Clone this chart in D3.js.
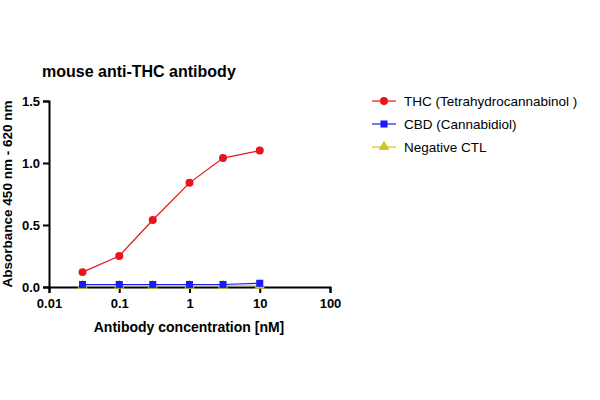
<!DOCTYPE html><html><head><script src="https://cdn.jsdelivr.net/npm/d3@7"></script>
<style>body{margin:0;background:#fff}text{font-family:Arial,"Liberation Sans",sans-serif}</style></head><body><svg id="c" width="600" height="400"></svg>
<script>
const concentrations=[0.03,0.1,0.3,1,3,10];
const thc=[0.12,0.25,0.54,0.84,1.04,1.10];
const cbd=[0.02,0.02,0.02,0.02,0.02,0.03];
const neg=[0.01,0.01,0.01,0.01,0.01,0.01];
const xTicks=[0.01,0.1,1,10,100];
const xTickLabels=["0.01","0.1","1","10","100"];
const yTicks=[0,0.5,1.0,1.5];
const series=[{name:"THC (Tetrahydrocannabinol )",v:thc,c:"#e8141b",s:d3.symbolCircle},
{name:"CBD (Cannabidiol)",v:cbd,c:"#1a1aff",s:d3.symbolSquare},
{name:"Negative CTL",v:neg,c:"#c8c820",s:d3.symbolTriangle}];
const svg=d3.select("#c");
const x=d3.scaleLog().domain([0.01,100]).range([49,330]);
const y=d3.scaleLinear().domain([0,1.5]).range([287,101]);
svg.append("g").attr("transform","translate(0,287)").call(d3.axisBottom(x).tickValues(xTicks).tickFormat((d,i)=>xTickLabels[i]).tickSize(6))
.call(g=>{g.select(".domain").attr("stroke-width",2);g.selectAll("line").attr("stroke-width",2);g.selectAll("text").attr("font-size",13).attr("font-weight","bold").attr("dy","0.9em")});
svg.append("g").attr("transform","translate(49,0)").call(d3.axisLeft(y).tickValues(yTicks).tickFormat(d3.format(".1f")).tickSize(6))
.call(g=>{g.select(".domain").attr("stroke-width",2);g.selectAll("line").attr("stroke-width",2);g.selectAll("text").attr("font-size",13).attr("font-weight","bold")});
series.slice().reverse().forEach(s=>{
 svg.append("path").attr("d",d3.line().x((d,i)=>x(concentrations[i])).y(d=>y(d))(s.v)).attr("fill","none").attr("stroke",s.c).attr("stroke-width",1.2);
 svg.selectAll(null).data(s.v).enter().append("path").attr("d",d3.symbol().type(s.s).size(50)).attr("fill",s.c)
 .attr("transform",(d,i)=>`translate(${x(concentrations[i])},${y(d)})`);
});
svg.append("text").attr("x",42).attr("y",77).attr("font-size",16).attr("font-weight","bold").text("mouse anti-THC antibody");
svg.append("text").attr("x",189).attr("y",332).attr("text-anchor","middle").attr("font-size",14).attr("font-weight","bold").text("Antibody concentration [nM]");
svg.append("text").attr("transform","translate(12,194) rotate(-90)").attr("text-anchor","middle").attr("font-size",13.5).attr("font-weight","bold").text("Absorbance 450 nm - 620 nm");
series.forEach((s,i)=>{const yy=101+i*23;
 svg.append("line").attr("x1",372).attr("x2",396).attr("y1",yy).attr("y2",yy).attr("stroke",s.c).attr("stroke-width",1.2);
 svg.append("path").attr("d",d3.symbol().type(s.s).size(50)).attr("fill",s.c).attr("transform",`translate(384,${yy})`);
 svg.append("text").attr("x",404).attr("y",yy+5).attr("font-size",13.5).text(s.name);});
</script></body></html>
